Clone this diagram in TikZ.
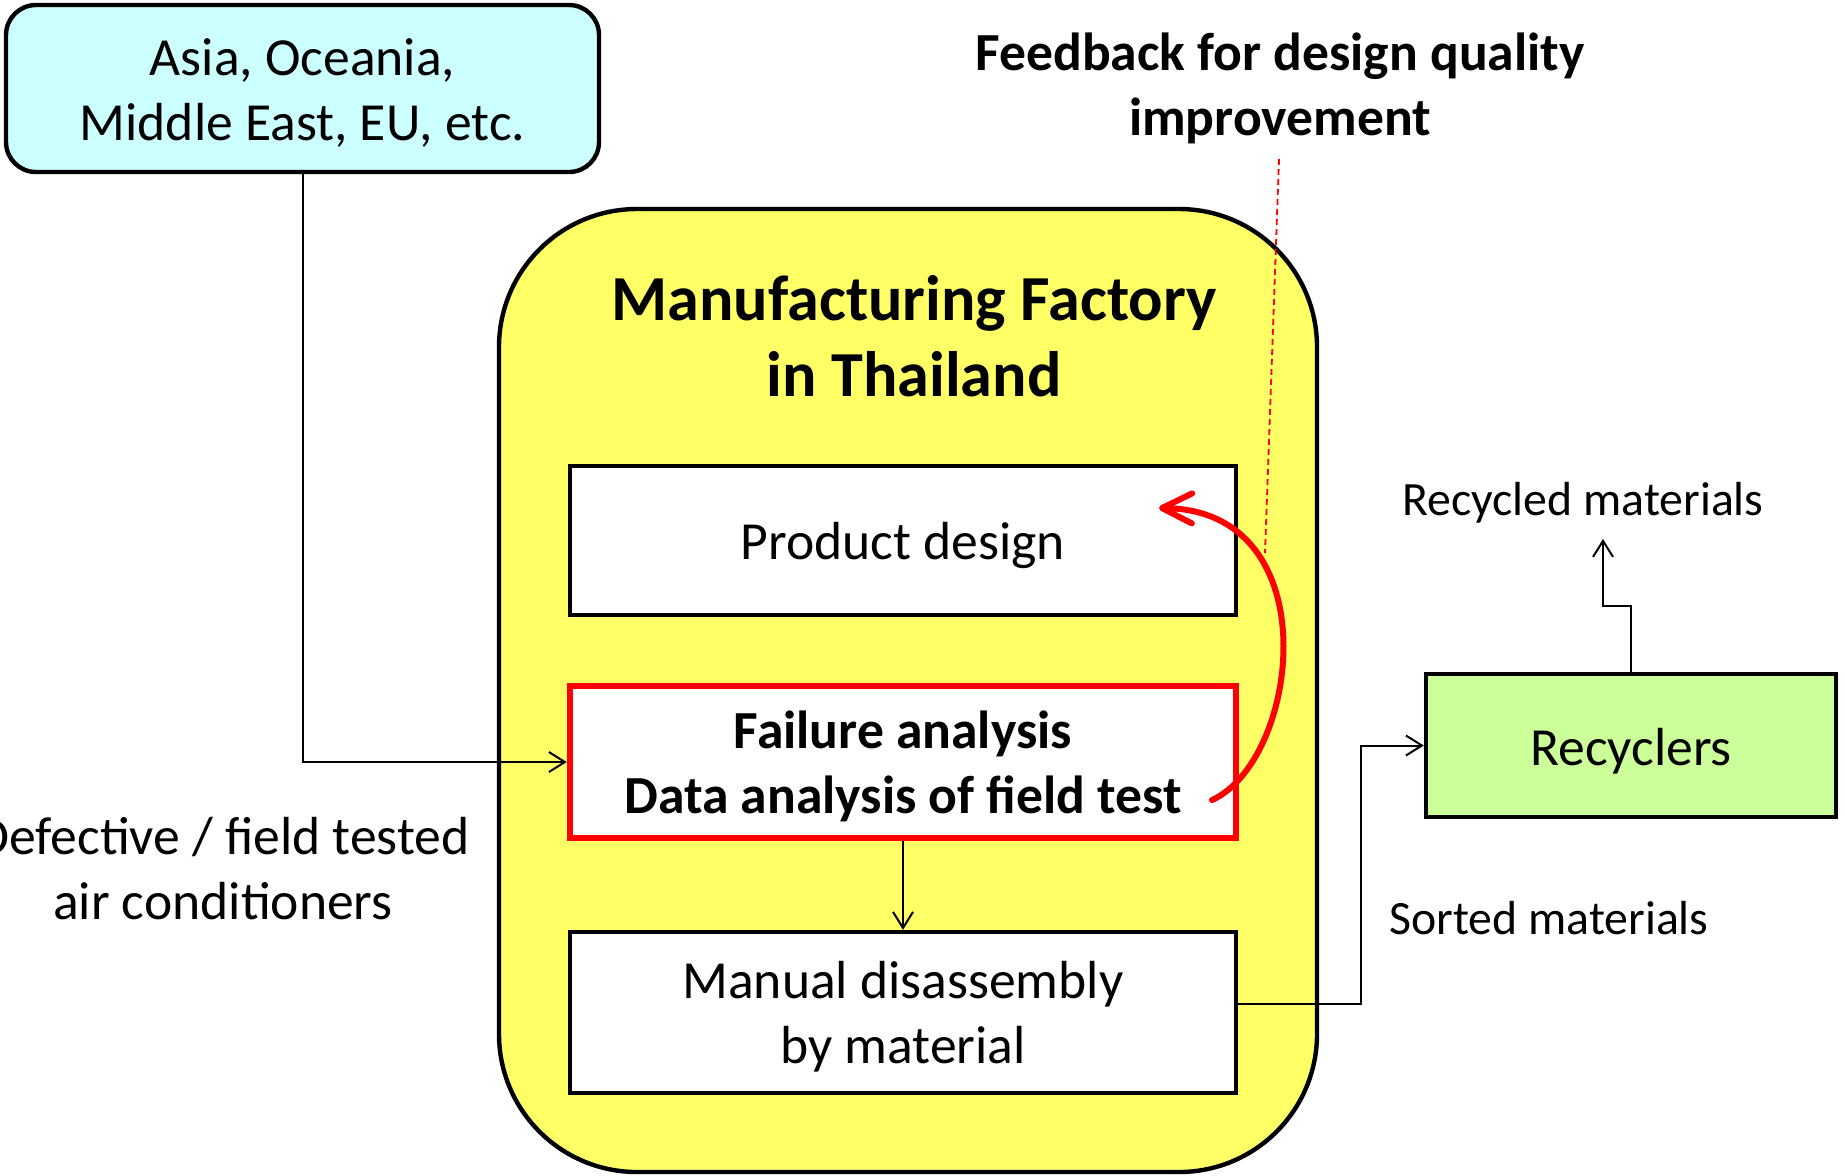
\documentclass[tikz,border=0pt]{standalone}
\usepackage{fontspec}
\setmainfont{Carlito}
\usetikzlibrary{arrows.meta}

\newcommand\fsnorm{\fontsize{26.8pt}{32.5pt}\selectfont}
\newcommand\fstitle{\fontsize{32.1pt}{38pt}\selectfont\bfseries}
\newcommand\fslabel{\fontsize{23.9pt}{28pt}\selectfont}

\definecolor{regioncyan}{HTML}{CCFFFF}
\definecolor{factoryyellow}{HTML}{FFFF66}
\definecolor{recyclegreen}{HTML}{CCFF99}
\definecolor{alertred}{HTML}{FF0000}

\tikzset{
  box/.style={draw=black, line width=2.2pt, fill=white, inner sep=0pt},
  regionbox/.style={box, fill=regioncyan, rounded corners=15pt},
  factorybox/.style={draw=black, line width=2.2pt, fill=factoryyellow,
    rounded corners=69pt, inner sep=0pt},
  alertbox/.style={box, draw=alertred, line width=3.2pt},
  recyclerbox/.style={box, fill=recyclegreen},
  boxtext/.style={align=center, inner sep=0pt, font=\fsnorm},
  caption/.style={align=center, inner sep=0pt},
  conn/.style={draw=black, line width=1pt,
    -{Straight Barb[length=8pt, width=10pt]}},
  loopback/.style={draw=alertred, line width=3pt, line cap=round,
    -{Straight Barb[length=15pt, width=15pt, round]}},
  leader/.style={draw=alertred, line width=0.9pt, dash pattern=on 3pt off 2pt},
}

\begin{document}
\begin{tikzpicture}[x=0.5pt, y=-0.5pt]
  \useasboundingbox (0,0) rectangle (1845,1175);

  % source regions
  \node[regionbox, minimum width=296.5pt, minimum height=83.5pt] (region)
    at (302.5,88.5) {};
  \node[boxtext] (regiontext) at ([yshift=-2pt]region.center)
    {Asia, Oceania,\\Middle East, EU, etc.};

  % factory block with its three stages
  \node[factorybox, minimum width=409pt, minimum height=481.5pt] (factory)
    at (908,690.5) {};
  \node[caption, font=\fstitle] (title) at (914,336)
    {Manufacturing Factory\\in Thailand};

  \node[box, minimum width=333pt, minimum height=74.5pt] (design)
    at (903,540.5) {};
  \node[boxtext] (designtext) at ([yshift=-2.25pt]design.center)
    {Product design};

  \node[alertbox, minimum width=333pt, minimum height=76pt] (fail)
    at (903,762) {};
  \node[boxtext, font=\fsnorm\bfseries] (failtext) at ([yshift=-2pt]fail.center)
    {Failure analysis\\Data analysis of field test};

  \node[box, minimum width=333pt, minimum height=80.5pt] (manual)
    at (903,1012.5) {};
  \node[boxtext] (manualtext) at ([yshift=-2pt]manual.center)
    {Manual disassembly\\by material};

  % recyclers
  \node[recyclerbox, minimum width=205pt, minimum height=71.5pt] (recyc)
    at (1631,745.5) {};
  \node[boxtext] (recyctext) at ([yshift=-2.75pt]recyc.center) {Recyclers};

  % free labels
  \node[caption, font=\fsnorm\bfseries] (feedback) at (1280,88)
    {Feedback for design quality\\improvement};
  \node[caption, font=\fslabel] (recycled) at (1583,503) {Recycled materials};
  \node[caption, font=\fslabel] (sorted) at (1549,918) {Sorted materials};
  \node[caption, font=\fsnorm] (defective) at (223,869)
    {Defective / field tested\\air conditioners};

  % routing points
  \coordinate (sortrow) at (0,1004);
  \coordinate (riser) at (1361,0);
  \coordinate (step) at (1603,606);
  \coordinate (upend) at (1603,539);
  \coordinate (loopstart) at (1212,800);
  \coordinate (looptip) at (1159,508);
  \coordinate (leaderstart) at (1279,159);
  \coordinate (leaderend) at (1265,553);

  % material flow
  \draw[conn] (region.south) |- (fail.west);
  \draw[conn] (fail.south) -- (manual.north);
  \draw[conn] (manual.east |- sortrow) -| (riser |- recyc.west) -- (recyc.west);
  \draw[conn] (recyc.north) |- (step) -- (upend);

  % feedback loop from analysis back to design
  \draw[leader] (leaderstart) -- (leaderend);
  \draw[loopback] (loopstart) .. controls (1300,760) and (1330,510) .. (looptip);
\end{tikzpicture}
\end{document}
